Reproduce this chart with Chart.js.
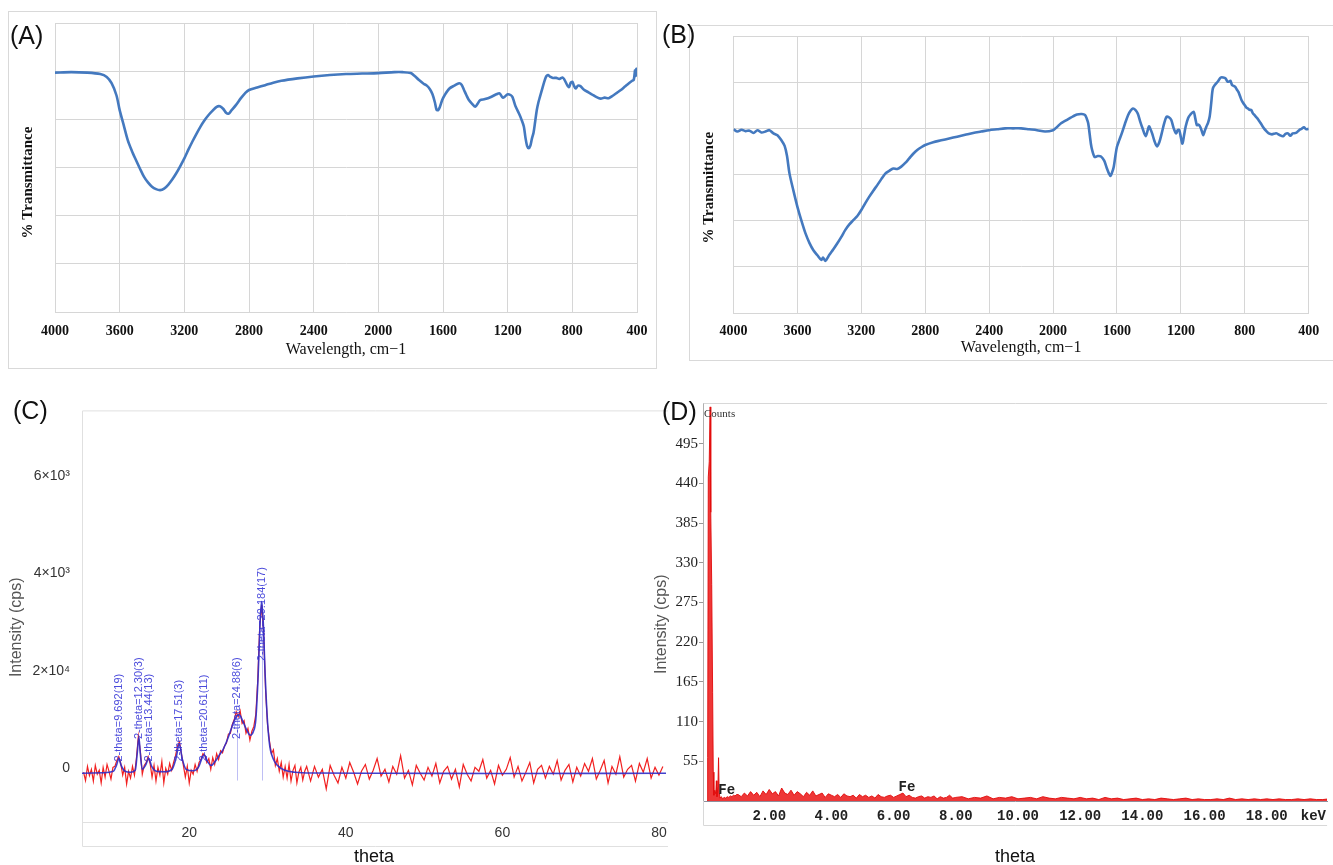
<!DOCTYPE html>
<html>
<head>
<meta charset="utf-8">
<script src="https://cdn.jsdelivr.net/npm/chart.js@4.4.1/dist/chart.umd.min.js"></script>
<style>
  html, body { margin:0; padding:0; background:#fff; overflow:hidden; width:1333px; height:865px; position:relative; }
  .box { position:absolute; border:1px solid #d9d9d9; box-sizing:border-box; }
  .tag { position:absolute; font-family:'Liberation Sans', Arial, sans-serif; font-size:25px; line-height:28px; color:#111; }
  canvas { position:absolute; }
</style>
</head>
<body>
<div class="box" style="left:8px;top:11px;width:649px;height:358px;"></div>
<div class="box" style="left:689px;top:25px;width:660px;height:336px;"></div>
<canvas id="irA" width="660" height="370" style="left:0;top:0"></canvas>
<canvas id="irB" width="673" height="370" style="left:660px;top:0"></canvas>
<canvas id="xrd" width="670" height="478" style="left:0;top:390px"></canvas>
<canvas id="eds" width="688" height="478" style="left:645px;top:390px"></canvas>
<div class="tag" style="left:10px;top:21px">(A)</div>
<div class="tag" style="left:662px;top:20px">(B)</div>
<div class="tag" style="left:13px;top:396px">(C)</div>
<div class="tag" style="left:662px;top:397px">(D)</div>
<script>
// FTIR spectrum (A)
var irA_wn = [4000,3900,3800,3720,3680,3650,3620,3600,3575,3550,
  3525,3500,3475,3450,3425,3400,3375,3350,3325,3300,
  3275,3250,3225,3200,3175,3150,3125,3100,3075,3050,
  3025,3000,2980,2960,2940,2925,2910,2880,2850,2825,
  2800,2750,2700,2650,2600,2500,2400,2300,2200,2100,
  2000,1900,1850,1800,1775,1750,1720,1700,1680,1665,
  1650,1640,1630,1620,1605,1590,1560,1530,1500,1485,
  1470,1455,1440,1420,1400,1385,1370,1340,1300,1270,
  1250,1230,1215,1200,1180,1170,1160,1150,1130,1115,
  1100,1090,1080,1070,1060,1050,1040,1030,1020,1010,
  1000,985,970,960,950,935,920,900,880,860,
  850,830,820,810,800,790,780,765,750,730,
  700,680,650,625,600,575,550,525,500,475,
  450,430,420,412,408,404,400];
var irA_t = [4.97,4.98,4.97,4.94,4.88,4.75,4.50,4.19,3.88,3.57,
  3.35,3.16,2.98,2.81,2.69,2.60,2.55,2.53,2.56,2.64,
  2.75,2.88,3.03,3.19,3.37,3.54,3.70,3.85,3.98,4.09,
  4.18,4.26,4.27,4.22,4.13,4.12,4.18,4.30,4.44,4.54,
  4.61,4.66,4.71,4.76,4.80,4.85,4.89,4.92,4.94,4.95,
  4.96,4.98,4.98,4.96,4.90,4.82,4.74,4.70,4.62,4.52,
  4.35,4.20,4.19,4.25,4.40,4.50,4.64,4.70,4.75,4.72,
  4.61,4.50,4.40,4.32,4.26,4.33,4.40,4.42,4.47,4.52,
  4.54,4.45,4.48,4.52,4.50,4.46,4.36,4.26,4.12,4.00,
  3.85,3.62,3.45,3.40,3.45,3.60,3.72,3.95,4.19,4.35,
  4.47,4.65,4.82,4.90,4.92,4.88,4.86,4.86,4.84,4.87,
  4.83,4.70,4.67,4.76,4.78,4.70,4.64,4.70,4.69,4.62,
  4.56,4.52,4.46,4.43,4.45,4.44,4.49,4.55,4.61,4.68,
  4.75,4.80,4.82,5.02,4.90,5.05,4.94];

// FTIR spectrum (B)
var irB_wn = [4000,3975,3950,3925,3900,3875,3850,3825,3800,3775,
  3750,3725,3700,3680,3665,3650,3625,3600,3575,3550,
  3525,3500,3475,3450,3440,3425,3400,3375,3350,3325,
  3300,3275,3250,3225,3200,3175,3150,3125,3100,3075,
  3050,3025,3000,2975,2950,2925,2900,2875,2850,2825,
  2800,2750,2700,2650,2600,2550,2500,2450,2400,2350,
  2300,2250,2200,2150,2100,2050,2000,1975,1950,1925,
  1900,1875,1850,1820,1800,1790,1780,1770,1760,1740,
  1720,1700,1680,1665,1650,1640,1630,1620,1610,1600,
  1585,1570,1550,1530,1515,1500,1485,1470,1455,1440,
  1420,1400,1390,1380,1365,1350,1335,1320,1305,1290,
  1275,1260,1245,1230,1220,1210,1200,1190,1180,1170,
  1155,1140,1120,1110,1100,1090,1080,1070,1060,1050,
  1040,1030,1020,1010,1000,985,970,950,935,920,
  910,900,890,880,870,860,850,840,830,820,
  810,800,790,780,770,760,750,740,730,720,
  710,700,690,680,665,650,630,610,600,580,
  560,545,530,515,500,480,460,445,430,415,
  400];
var irB_t = [3.98,3.93,3.97,3.94,3.95,3.90,3.96,3.91,3.93,3.96,
  3.89,3.85,3.74,3.62,3.40,3.03,2.65,2.30,2.00,1.73,
  1.52,1.36,1.25,1.15,1.20,1.13,1.26,1.38,1.51,1.65,
  1.80,1.92,2.01,2.10,2.23,2.38,2.52,2.65,2.77,2.90,
  3.02,3.08,3.13,3.12,3.17,3.25,3.35,3.45,3.53,3.59,
  3.64,3.70,3.74,3.78,3.82,3.86,3.90,3.93,3.96,3.98,
  4.00,4.00,4.00,3.98,3.96,3.93,3.96,4.03,4.11,4.16,
  4.21,4.26,4.30,4.31,4.29,4.22,4.11,3.85,3.60,3.38,
  3.40,3.39,3.30,3.15,3.02,2.97,3.05,3.17,3.40,3.60,
  3.75,3.89,4.10,4.29,4.38,4.43,4.40,4.32,4.15,4.00,
  3.83,4.04,3.98,3.89,3.72,3.61,3.70,3.89,4.10,4.25,
  4.24,4.18,4.00,3.89,3.96,3.96,3.80,3.67,3.85,4.04,
  4.22,4.30,4.36,4.22,4.07,4.08,4.04,3.95,3.85,3.95,
  4.04,4.12,4.25,4.55,4.86,4.95,5.01,5.10,5.10,5.08,
  5.02,5.01,5.03,4.94,4.92,4.90,4.84,4.79,4.70,4.61,
  4.55,4.50,4.45,4.43,4.40,4.40,4.33,4.29,4.25,4.21,
  4.16,4.11,4.05,4.00,3.94,3.89,3.87,3.89,3.89,3.85,
  3.83,3.88,3.89,3.84,3.89,3.90,3.96,3.99,4.02,3.98,
  3.99];

// XRD (C): fitted profile
var xrdFitTheta = [6.3,9,10.3,10.7,11.0,11.3,11.8,12.5,13.1,13.35,
  13.56,13.75,14.0,14.4,14.83,15.2,15.8,16.8,17.8,18.3,
  18.73,19.1,19.6,20.5,21.2,21.6,21.91,22.3,22.8,23.3,
  23.8,24.3,24.8,25.3,25.7,26.1,26.4,26.8,27.3,27.8,
  28.2,28.5,28.8,29.05,29.24,29.45,29.7,30.0,30.3,30.6,
  30.9,31.4,32.2,33.5,36,45,60,80.9];
var xrdFitCps = [-100,-90,-60,60,200,60,-60,-80,-40,300,
  640,300,-20,60,200,40,-60,-70,-20,200,
  500,200,-20,-50,30,200,280,150,60,140,
  260,380,560,780,960,1080,1100,980,800,680,
  760,1000,1900,3000,3420,3000,1900,950,440,250,
  140,40,-40,-80,-95,-100,-105,-100];

// XRD (C): measured counts, 6.5-35.0 every 0.25 and 35.5-80.5 every 0.5
var xrdRawStartA = 6.5, xrdRawStepA = 0.25;
var xrdRawA = [-80,-250,40,-150,-20,-260,60,-120,-40,-300,
  20,-180,80,-60,-220,20,40,160,240,100,
  -140,20,-320,-60,-200,40,-140,200,660,360,
  -120,60,120,240,100,-180,60,-260,20,-140,
  140,-300,0,-120,100,-40,120,260,460,540,
  300,60,-180,40,-300,-40,-120,80,-60,120,
  180,300,260,120,200,-20,220,80,300,180,
  360,320,460,520,700,720,900,1000,1160,1060,
  1180,920,980,720,820,580,760,860,1100,1800,
  2900,3350,2800,1600,900,560,300,380,60,200,
  -60,120,-180,40,-200,80,-260,-40,60,-300,
  -80,20,-240,-60,40];
var xrdRawStartB = 35.5, xrdRawStepB = 0.5;
var xrdRawB = [-260,40,-180,-20,-420,60,-140,-300,20,-200,
  120,-80,-320,-60,80,-220,-40,200,-160,-20,
  -280,40,-120,260,-200,-40,-340,60,-100,-240,
  20,-160,100,-300,-60,40,-220,-20,-380,80,
  -120,-260,20,-60,180,-200,-40,-320,60,-140,
  -20,220,-180,40,-260,-80,120,-300,-20,60,
  -200,40,-120,160,-240,-40,80,-280,20,-160,
  100,-60,200,-220,-40,160,-300,40,-120,240,
  -180,-20,60,-260,100,-80,200,-200,20,-140,40];

var xrdTickValues = [0, 2000, 4000, 6000];
var xrdTickLabels = ['0', '2\u00d710\u2074', '4\u00d710\u00b3', '6\u00d710\u00b3'];
var xrdPeakLabels = ['2-theta=9.692(19)', '2-theta=12.30(3)', '2-theta=13.44(13)', '2-theta=17.51(3)',
  '2-theta=20.61(11)', '2-theta=24.88(6)', '2-theta=29.184(17)'];
var xrdPeakTheta = [11.02, 13.56, 14.83, 18.73, 21.91, 26.06, 29.24];
var xrdPeakCps = [140, 600, 140, 140, 140, 600, 2200];
var xrdMarkTheta = [26.06, 29.24];
var xrdMarkTop = [1000, 3400];

// EDS (D)
var edsLowKeV = [0.0,0.02,0.04,0.07,0.10,0.12,0.15,0.18,0.20,0.22,
  0.25,0.28,0.30,0.32,0.35,0.37,0.39,0.42,0.46,0.5,
  0.55,0.6,0.65,0.7,0.75,0.8,0.85,0.9,0.95];
var edsLowCounts = [0,60,449,470,546,400,300,150,40,8,
  15,10,28,6,20,60,12,4,6,3,
  5,4,6,5,7,6,8,7,9];
var edsTailStartA = 1.0, edsTailStepA = 0.1;
var edsTailA = [9,6,11,7,13,8,12,6,14,9,
  16,10,13,7,18,11,9,15,8,13,
  10,6,12,8,14,7,9,11,5,10,
  8,6,9,5,10,7,6,8,4,9,
  6,8,5,7,4,9,6,5,7,8,
  5,7,9,11,6,8,5,4,6,7,
  4,6,5,7,3,6,4,5,8,4,5];
var edsTailStartB = 8.2, edsTailStepB = 0.2;
var edsTailB = [6,3,5,4,7,3,5,4,6,3,
  4,5,3,6,4,3,5,4,3,5,
  3,4,2,5,3,4,2,3,4,2,
  3,2,4,3,2,3,4,2,3,2,
  2,3,2,4,2,3,2,3,2,3,
  2,3,2,2,3,2,3,2,2,3];
var edsXTicks = [2, 4, 6, 8, 10, 12, 14, 16, 18, 19.5];
var edsYTicks = [55, 110, 165, 220, 275, 330, 385, 440, 495];
var edsLabels = ['Fe', 'Fe'];
var edsLabelKeV = [0.63, 6.43];
var edsLabelCounts = [15, 19];

var serif = "'Liberation Serif', 'Times New Roman', serif";
var sans = "'Liberation Sans', Arial, sans-serif";
var mono = "'Liberation Mono', 'Courier New', monospace";

function pairs(xs, ys) {
  return xs.map(function(x, i){ return {x: x, y: ys[i]}; });
}
function series(start, step, ys) {
  return ys.map(function(y, i){ return {x: +(start + i * step).toFixed(3), y: y}; });
}
function fixedWidth(w) { return function(scale){ scale.width = w; }; }
function fixedHeight(h) { return function(scale){ scale.height = h; }; }
function pad(n) { return '\u00a0'.repeat(n); }

// both FTIR panels share the same look
function irChart(id, wn, t, g) {
  return new Chart(document.getElementById(id), {
    type: 'line',
    data: { datasets: [{ data: pairs(wn, t), borderColor: '#4479bf', borderWidth: 2.6,
      pointRadius: 0, fill: false, tension: 0.3 }] },
    options: {
      responsive: false, animation: false,
      layout: { padding: { left: 0, top: g.top, right: g.right, bottom: g.bottom } },
      plugins: { legend: { display: false }, tooltip: { enabled: false } },
      scales: {
        x: {
          type: 'linear', reverse: true, min: 400, max: 4000,
          ticks: { stepSize: 400, padding: g.tickPad, color: '#111', maxRotation: 0, autoSkip: false,
            font: { family: serif, size: 14, weight: 'bold' },
            callback: function(v){ return String(v); } },
          grid: { color: '#d6d6d6', drawTicks: false },
          border: { color: '#d6d6d6' },
          title: { display: true, text: 'Wavelength, cm\u22121', color: '#111',
            font: { family: serif, size: 16 }, padding: 0 },
          afterFit: fixedHeight(g.xh)
        },
        y: {
          min: 0, max: 6,
          ticks: { display: false, stepSize: 1 },
          grid: { color: '#d6d6d6', drawTicks: false },
          border: { color: '#d6d6d6' },
          title: { display: true, text: '% Transmittance' + pad(g.shift), color: '#111',
            font: { family: serif, size: 15, weight: 'bold' }, padding: { top: g.titlePad, bottom: 0 } },
          afterFit: fixedWidth(g.yw)
        }
      }
    }
  });
}

irChart('irA', irA_wn, irA_t, { top: 23, right: 23, bottom: 10.4, xh: 47.6, yw: 55, tickPad: 11.3, titlePad: 19.6, shift: 8 });
irChart('irB', irB_wn, irB_t, { top: 36, right: 24.3, bottom: 12.4, xh: 44.6, yw: 73.5, tickPad: 10.3, titlePad: 40, shift: 7 });

// XRD decorations: frame, peak labels
var xrdDecor = {
  id: 'xrdDecor',
  beforeDatasetsDraw: function(chart) {
    var ctx = chart.ctx, a = chart.chartArea;
    ctx.save();
    ctx.strokeStyle = '#e0e0e0';
    ctx.lineWidth = 1;
    ctx.beginPath();
    ctx.moveTo(a.right + 2, a.top + 0.5); ctx.lineTo(a.left + 0.5, a.top + 0.5);
    ctx.lineTo(a.left + 0.5, a.bottom + 24.5); ctx.lineTo(a.right + 2, a.bottom + 24.5);
    ctx.moveTo(a.left, a.bottom + 0.5); ctx.lineTo(a.right + 2, a.bottom + 0.5);
    ctx.stroke();
    var xs = chart.scales.x, ys = chart.scales.y;
    ctx.strokeStyle = 'rgba(110,110,230,0.45)';
    ctx.beginPath();
    xrdMarkTheta.forEach(function(th, i){
      var px = Math.round(xs.getPixelForValue(th)) + 0.5;
      ctx.moveTo(px, ys.getPixelForValue(-250));
      ctx.lineTo(px, ys.getPixelForValue(xrdMarkTop[i]));
    });
    ctx.stroke();
    ctx.restore();
  },
  afterDatasetsDraw: function(chart) {
    var ctx = chart.ctx, xs = chart.scales.x, ys = chart.scales.y;
    ctx.save();
    ctx.font = '11px ' + sans;
    ctx.fillStyle = 'rgba(55,55,215,0.9)';
    ctx.textAlign = 'left';
    ctx.textBaseline = 'middle';
    xrdPeakLabels.forEach(function(txt, i){
      ctx.save();
      ctx.translate(xs.getPixelForValue(xrdPeakTheta[i]), ys.getPixelForValue(xrdPeakCps[i]));
      ctx.rotate(-Math.PI / 2);
      ctx.fillText(txt, 0, 0);
      ctx.restore();
    });
    ctx.restore();
  }
};

new Chart(document.getElementById('xrd'), {
  type: 'line',
  data: { datasets: [
    { data: pairs(xrdFitTheta, xrdFitCps), borderColor: 'rgba(45,45,200,0.9)', borderWidth: 1.6,
      pointRadius: 0, fill: false, cubicInterpolationMode: 'monotone', order: 0 },
    { data: series(xrdRawStartA, xrdRawStepA, xrdRawA).concat(series(xrdRawStartB, xrdRawStepB, xrdRawB)),
      borderColor: 'rgba(240,20,20,0.95)', borderWidth: 1.2, pointRadius: 0, fill: false, tension: 0, order: 1 }
  ] },
  options: {
    responsive: false, animation: false,
    layout: { padding: { left: 0, top: 10, right: 4, bottom: 0 } },
    plugins: { legend: { display: false }, tooltip: { enabled: false } },
    scales: {
      x: {
        type: 'linear', min: 6.3, max: 80.9,
        afterBuildTicks: function(s){ s.ticks = [20, 40, 60, 80].map(function(v){ return {value: v}; }); },
        ticks: { padding: 3, color: '#333', maxRotation: 0, font: { family: sans, size: 14 } },
        grid: { display: false, drawTicks: false },
        border: { display: false },
        title: { display: true, text: 'theta', color: '#111', font: { family: sans, size: 18 }, padding: 0 },
        afterFit: fixedHeight(46)
      },
      y: {
        min: -1100, max: 7340,
        afterBuildTicks: function(s){ s.ticks = xrdTickValues.map(function(v){ return {value: v}; }); },
        ticks: { padding: 12, color: '#333', font: { family: sans, size: 14 },
          callback: function(v){ return xrdTickLabels[xrdTickValues.indexOf(v)]; } },
        grid: { display: false, drawTicks: false },
        border: { display: false },
        title: { display: true, text: 'Intensity (cps)' + pad(5), color: '#555',
          font: { family: sans, size: 16 }, padding: { top: 7, bottom: 0 } },
        afterFit: fixedWidth(82)
      }
    }
  },
  plugins: [xrdDecor]
});

// EDS decorations: frame, "Counts", element labels
var edsDecor = {
  id: 'edsDecor',
  beforeDatasetsDraw: function(chart) {
    var ctx = chart.ctx, a = chart.chartArea;
    ctx.save();
    ctx.strokeStyle = '#d8d8d8';
    ctx.lineWidth = 1;
    ctx.beginPath();
    ctx.moveTo(a.right, a.top + 0.5); ctx.lineTo(a.left + 0.5, a.top + 0.5);
    ctx.moveTo(a.left + 0.5, a.bottom); ctx.lineTo(a.left + 0.5, a.bottom + 24.5);
    ctx.lineTo(a.right, a.bottom + 24.5);
    ctx.stroke();
    ctx.restore();
  },
  afterDatasetsDraw: function(chart) {
    var ctx = chart.ctx, a = chart.chartArea, xs = chart.scales.x, ys = chart.scales.y;
    ctx.save();
    ctx.fillStyle = '#333';
    ctx.font = '11px ' + serif;
    ctx.textAlign = 'left';
    ctx.textBaseline = 'middle';
    ctx.fillText('Counts', a.left + 1, a.top + 11);
    ctx.font = 'bold 14px ' + mono;
    ctx.fillStyle = '#222';
    ctx.textAlign = 'center';
    edsLabels.forEach(function(txt, i){
      ctx.fillText(txt, xs.getPixelForValue(edsLabelKeV[i]), ys.getPixelForValue(edsLabelCounts[i]));
    });
    ctx.restore();
  }
};

new Chart(document.getElementById('eds'), {
  type: 'line',
  data: { datasets: [{
    data: pairs(edsLowKeV, edsLowCounts)
      .concat(series(edsTailStartA, edsTailStepA, edsTailA))
      .concat(series(edsTailStartB, edsTailStepB, edsTailB)),
    borderColor: 'rgba(225,10,10,0.9)', backgroundColor: 'rgba(235,20,20,0.85)',
    borderWidth: 1, pointRadius: 0, fill: 'origin', tension: 0
  }] },
  options: {
    responsive: false, animation: false,
    layout: { padding: { left: 0, top: 13, right: 0, bottom: 0 } },
    plugins: { legend: { display: false }, tooltip: { enabled: false } },
    scales: {
      x: {
        type: 'linear', min: -0.13, max: 19.94,
        afterBuildTicks: function(s){ s.ticks = edsXTicks.map(function(v){ return {value: v}; }); },
        ticks: { padding: 7, color: '#222', maxRotation: 0, autoSkip: false,
          font: { family: mono, size: 14, weight: 'bold' },
          callback: function(v){ return v === 19.5 ? 'keV' : v.toFixed(2); } },
        grid: { display: false, drawTicks: false },
        border: { color: '#8f8f9c' },
        title: { display: true, text: 'theta', color: '#111', font: { family: sans, size: 18 }, padding: 0 },
        afterFit: fixedHeight(67)
      },
      y: {
        min: 0, max: 551.4,
        afterBuildTicks: function(s){ s.ticks = edsYTicks.map(function(v){ return {value: v}; }); },
        ticks: { padding: 1, color: '#222', font: { family: serif, size: 15 } },
        grid: { drawOnChartArea: false, drawTicks: true, tickLength: 4, color: '#999' },
        border: { color: '#b0b0b0' },
        title: { display: true, text: 'Intensity (cps)' + pad(10), color: '#555',
          font: { family: sans, size: 16 }, padding: { top: 7.4, bottom: 0 } },
        afterFit: fixedWidth(58)
      }
    }
  },
  plugins: [edsDecor]
});
</script>
</body>
</html>
